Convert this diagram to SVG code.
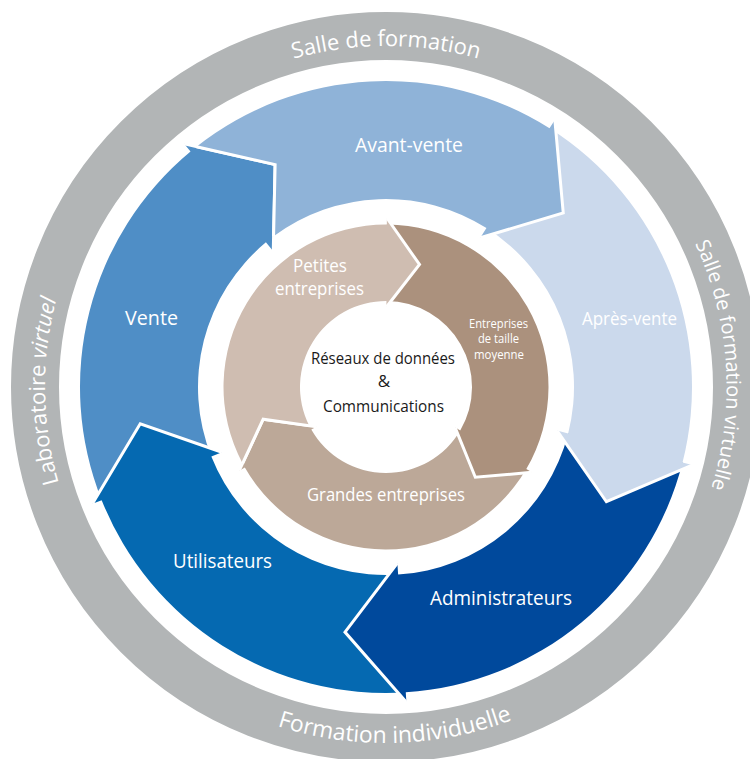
<svg xmlns="http://www.w3.org/2000/svg" width="750" height="759" viewBox="0 0 750 759">
<style>
.ring{fill:none;stroke:#b2b5b6;stroke-width:48}
.rt{font-family:"Open Sans","Noto Sans","DejaVu Sans",sans-serif;fill:#ffffff;font-size:22px}
.lbl{font-family:"Open Sans","Noto Sans","DejaVu Sans",sans-serif;fill:#ffffff}
.ctr{font-family:"Open Sans","Noto Sans","DejaVu Sans",sans-serif;fill:#1a1a1a;font-size:17px}
.edge{fill:none;stroke:#ffffff;stroke-width:3;stroke-linejoin:miter;stroke-miterlimit:10}
.c-avant{fill:#8fb3d8}
.c-apres{fill:#cbd9ec}
.c-admin{fill:#00499c}
.c-util{fill:#0569b1}
.c-vente{fill:#4f8ec6}
.c-pet{fill:#cfbdb1}
.c-moy{fill:#ab917d}
.c-gra{fill:#bca898}
</style>
<defs>
<path id="arcTop" d="M45,387 A341,341 0 0 1 727,387"/>
<path id="arcRight" d="M363.40,46.75 A341,341 0 0 1 408.60,727.25"/>
<path id="arcLeft" d="M390.17,727.98 A341,341 0 0 1 381.83,46.02"/>
<path id="arcBottom" d="M30.12,396.32 A356,356 0 0 0 741.88,377.68"/>
</defs>
<rect x="0" y="0" width="750" height="759" fill="#ffffff"/>

<g id="outer-ring">
<circle class="ring" cx="386" cy="387" r="351"/>
<text class="rt"><textPath href="#arcTop" startOffset="50%" text-anchor="middle">Salle de formation</textPath></text>
<text class="rt" style="font-size:20px"><textPath href="#arcRight" startOffset="50%" text-anchor="middle">Salle de formation virtuelle</textPath></text>
<text class="rt"><textPath href="#arcLeft" startOffset="50%" text-anchor="middle">Laboratoire <tspan font-style="italic">virtuel</tspan></textPath></text>
<text class="rt" style="font-size:23px"><textPath href="#arcBottom" startOffset="50%" text-anchor="middle">Formation individuelle</textPath></text>
</g>

<g id="vente">
<path class="c-vente" d="M101.68,500.15 A306,306 0 0 1 190.53,151.56 L184.15,143.87 L275.12,164.61 L273.26,251.20 L265.91,242.35 A188,188 0 0 0 211.32,456.51 Z"/>
<path class="edge" d="M184.15,143.87 L275.12,164.61 L273.26,251.20"/>
<text class="lbl" x="125" y="325" font-size="20" textLength="53" lengthAdjust="spacingAndGlyphs">Vente</text>
</g>

<g id="utilisateurs">
<path class="c-util" d="M405.75,692.36 A306,306 0 0 1 101.68,500.15 L92.39,503.84 L140.23,423.73 L222.01,452.26 L211.32,456.51 A188,188 0 0 0 398.13,574.61 Z"/>
<path class="edge" d="M92.39,503.84 L140.23,423.73 L222.01,452.26"/>
<text class="lbl" x="173" y="568" font-size="20" textLength="99" lengthAdjust="spacingAndGlyphs">Utilisateurs</text>
</g>

<g id="administrateurs">
<path class="c-admin" d="M682.52,462.58 A306,306 0 0 1 405.75,692.36 L406.39,702.34 L344.99,632.09 L397.39,563.13 L398.13,574.61 A188,188 0 0 0 568.18,433.44 Z"/>
<path class="edge" d="M406.39,702.34 L344.99,632.09 L397.39,563.13"/>
<text class="lbl" x="430" y="605" font-size="20" textLength="142" lengthAdjust="spacingAndGlyphs">Administrateurs</text>
</g>

<g id="apres-vente">
<path class="c-apres" d="M549.51,128.34 A306,306 0 0 1 682.52,462.58 L692.21,465.05 L606.42,501.75 L557.03,430.60 L568.18,433.44 A188,188 0 0 0 486.46,228.09 Z"/>
<path class="edge" d="M692.21,465.05 L606.42,501.75 L557.03,430.60"/>
<text class="lbl" x="582" y="325" font-size="18" textLength="95" lengthAdjust="spacingAndGlyphs">Après-vente</text>
</g>

<g id="avant-vente">
<path class="c-avant" d="M196.55,146.70 A306,306 0 0 1 549.51,128.34 L554.86,119.89 L563.24,212.82 L480.31,237.81 L486.46,228.09 A188,188 0 0 0 273.58,236.32 L275.12,164.61 Z"/>
<path class="edge" d="M196.55,146.70 L275.12,164.61 L273.58,236.32"/>
<path class="edge" d="M554.86,119.89 L563.24,212.82 L480.31,237.81"/>
<text class="lbl" x="355" y="152" font-size="20" textLength="108" lengthAdjust="spacingAndGlyphs">Avant-vente</text>
</g>

<g id="grandes-entreprises">
<path class="c-gra" d="M526.30,468.99 A162.5,162.5 0 0 1 244.85,467.51 L239.20,470.73 L263.16,419.23 L316.51,426.64 L311.30,429.61 A86,86 0 0 0 460.25,430.39 Z"/>
<path class="edge" d="M239.20,470.73 L263.16,419.23 L316.51,426.64"/>
<text class="lbl" x="307" y="500.5" font-size="18" textLength="158" lengthAdjust="spacingAndGlyphs">Grandes entreprises</text>
</g>

<g id="entreprises-taille-moyenne">
<path class="c-moy" d="M386.85,224.50 A162.5,162.5 0 0 1 526.30,468.99 L531.91,472.27 L475.33,477.27 L455.07,427.36 L460.25,430.39 A86,86 0 0 0 386.45,301.00 Z"/>
<path class="edge" d="M531.91,472.27 L475.33,477.27 L455.07,427.36"/>
<text class="lbl" x="469" y="327.5" font-size="12" textLength="59" lengthAdjust="spacingAndGlyphs">Entreprises</text>
<text class="lbl" x="478" y="343" font-size="12" textLength="41" lengthAdjust="spacingAndGlyphs">de taille</text>
<text class="lbl" x="474" y="358.5" font-size="12" textLength="50" lengthAdjust="spacingAndGlyphs">moyenne</text>
</g>

<g id="petites-entreprises">
<path class="c-pet" d="M242.60,463.43 A162.5,162.5 0 0 1 386.85,224.50 L386.88,218.00 L419.51,264.50 L386.42,307.00 L386.45,301.00 A86,86 0 0 0 309.16,425.62 L263.16,419.23 Z"/>
<path class="edge" d="M242.60,463.43 L263.16,419.23 L309.16,425.62"/>
<path class="edge" d="M386.88,218.00 L419.51,264.50 L386.42,307.00"/>
<text class="lbl" x="293" y="272" font-size="18" textLength="54" lengthAdjust="spacingAndGlyphs">Petites</text>
<text class="lbl" x="275" y="295" font-size="18" textLength="89" lengthAdjust="spacingAndGlyphs">entreprises</text>
</g>

<g id="centre">
<text class="ctr" x="311" y="363.5" textLength="144" lengthAdjust="spacingAndGlyphs">Réseaux de données</text>
<text class="ctr" x="384" y="387" text-anchor="middle">&amp;</text>
<text class="ctr" x="323" y="412" textLength="121" lengthAdjust="spacingAndGlyphs">Communications</text>
</g>

<g id="connectors"></g>
</svg>
